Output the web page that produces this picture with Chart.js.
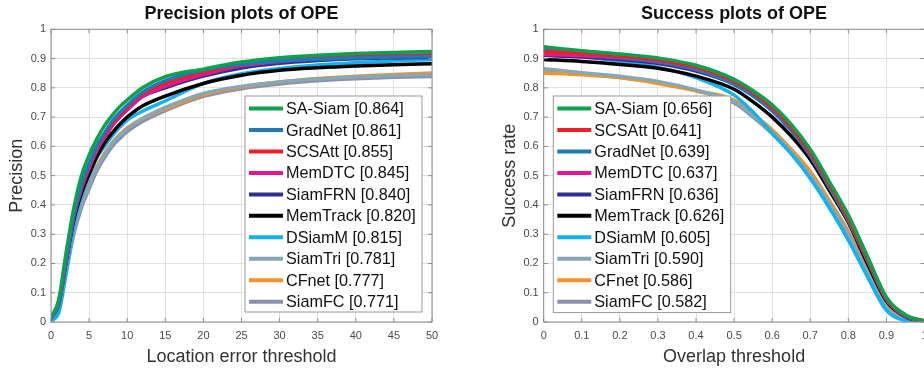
<!DOCTYPE html>
<html>
<head>
<meta charset="utf-8">
<script src="https://cdn.jsdelivr.net/npm/chart.js@4.4.0/dist/chart.umd.min.js"></script>
<style>
 body { margin: 0; background: #fff; }
 #wrap { position: relative; width: 924px; height: 368px; overflow: hidden; }
 #precBox { position: absolute; left: 0; top: 0; width: 462px; height: 368px; }
 #succBox { position: absolute; left: 462px; top: 0; width: 462px; height: 368px; overflow: hidden; }
</style>
</head>
<body>
<div id="wrap">
 <div id="precBox"><canvas id="precisionChart" width="462" height="368"></canvas></div>
 <div id="succBox"><canvas id="successChart" width="480" height="368"></canvas></div>
</div>
<script>
// ---- data ----
var precThresholds = [0, 1, 2, 3, 4, 5, 6, 7, 8, 9, 10, 12, 15, 20, 25, 30, 35, 40, 45, 50];
var precXTicks = [0, 5, 10, 15, 20, 25, 30, 35, 40, 45, 50];
var yTicks = [0, 0.1, 0.2, 0.3, 0.4, 0.5, 0.6, 0.7, 0.8, 0.9, 1];

var precNames = ["SA-Siam", "GradNet", "SCSAtt", "MemDTC", "SiamFRN", "MemTrack", "DSiamM", "SiamTri", "CFnet", "SiamFC"];
var precScores = ["0.864", "0.861", "0.855", "0.845", "0.840", "0.820", "0.815", "0.781", "0.777", "0.771"];

var precSASiam  = [0.015, 0.075, 0.24, 0.39, 0.50, 0.57, 0.625, 0.67, 0.705, 0.735, 0.758, 0.80, 0.838, 0.864, 0.888, 0.903, 0.911, 0.917, 0.921, 0.924];
var precGradNet = [0.012, 0.065, 0.22, 0.37, 0.47, 0.54, 0.60, 0.645, 0.685, 0.715, 0.74, 0.785, 0.825, 0.861, 0.88, 0.892, 0.898, 0.902, 0.905, 0.907];
var precSCSAtt  = [0.012, 0.065, 0.22, 0.37, 0.465, 0.535, 0.595, 0.64, 0.68, 0.71, 0.735, 0.78, 0.815, 0.855, 0.88, 0.895, 0.903, 0.908, 0.911, 0.913];
var precMemDTC  = [0.012, 0.06, 0.21, 0.36, 0.455, 0.525, 0.585, 0.63, 0.67, 0.70, 0.725, 0.77, 0.805, 0.845, 0.875, 0.89, 0.899, 0.905, 0.908, 0.91];
var precSiamFRN = [0.012, 0.06, 0.21, 0.36, 0.455, 0.525, 0.585, 0.63, 0.67, 0.70, 0.725, 0.77, 0.80, 0.84, 0.868, 0.884, 0.893, 0.899, 0.902, 0.904];
var precMemTrack = [0.012, 0.065, 0.21, 0.35, 0.44, 0.505, 0.565, 0.61, 0.645, 0.675, 0.70, 0.738, 0.772, 0.815, 0.843, 0.86, 0.869, 0.875, 0.879, 0.882];
var precDSiamM  = [0.005, 0.03, 0.17, 0.33, 0.43, 0.50, 0.56, 0.60, 0.635, 0.665, 0.69, 0.72, 0.755, 0.815, 0.848, 0.866, 0.878, 0.886, 0.892, 0.896];
var precSiamTri = [0.01, 0.05, 0.18, 0.31, 0.40, 0.465, 0.525, 0.57, 0.61, 0.637, 0.66, 0.695, 0.733, 0.781, 0.805, 0.82, 0.83, 0.837, 0.842, 0.845];
var precCFnet   = [0.01, 0.055, 0.19, 0.32, 0.41, 0.47, 0.53, 0.575, 0.612, 0.64, 0.663, 0.695, 0.728, 0.777, 0.803, 0.82, 0.832, 0.84, 0.846, 0.851];
var precSiamFC  = [0.008, 0.045, 0.17, 0.30, 0.39, 0.455, 0.515, 0.56, 0.598, 0.626, 0.65, 0.685, 0.722, 0.771, 0.797, 0.813, 0.824, 0.831, 0.836, 0.839];

var succThresholds = [0, 0.1, 0.2, 0.3, 0.4, 0.5, 0.55, 0.6, 0.65, 0.7, 0.75, 0.8, 0.85, 0.9, 0.95, 1];
var succXTicks = [0, 0.1, 0.2, 0.3, 0.4, 0.5, 0.6, 0.7, 0.8, 0.9, 1];

var succNames = ["SA-Siam", "SCSAtt", "GradNet", "MemDTC", "SiamFRN", "MemTrack", "DSiamM", "SiamTri", "CFnet", "SiamFC"];
var succScores = ["0.656", "0.641", "0.639", "0.637", "0.636", "0.626", "0.605", "0.590", "0.586", "0.582"];

var succSASiam  = [0.94, 0.927, 0.916, 0.902, 0.877, 0.829, 0.79, 0.742, 0.675, 0.59, 0.48, 0.365, 0.225, 0.085, 0.025, 0.003];
var succSCSAtt  = [0.925, 0.918, 0.908, 0.895, 0.87, 0.822, 0.783, 0.732, 0.665, 0.578, 0.47, 0.353, 0.215, 0.08, 0.022, 0.003];
var succGradNet = [0.93, 0.918, 0.905, 0.89, 0.862, 0.812, 0.773, 0.722, 0.655, 0.568, 0.46, 0.345, 0.21, 0.078, 0.02, 0.003];
var succMemDTC  = [0.915, 0.91, 0.902, 0.888, 0.862, 0.818, 0.78, 0.728, 0.66, 0.573, 0.465, 0.35, 0.212, 0.078, 0.02, 0.003];
var succSiamFRN = [0.911, 0.905, 0.897, 0.883, 0.857, 0.812, 0.773, 0.722, 0.655, 0.572, 0.465, 0.35, 0.212, 0.078, 0.02, 0.003];
var succMemTrack = [0.897, 0.89, 0.88, 0.867, 0.84, 0.795, 0.752, 0.70, 0.635, 0.555, 0.45, 0.34, 0.2, 0.072, 0.018, 0.002];
var succDSiamM  = [0.926, 0.908, 0.891, 0.87, 0.835, 0.775, 0.717, 0.645, 0.575, 0.49, 0.39, 0.28, 0.155, 0.04, 0.005, 0.001];
var succSiamTri = [0.865, 0.852, 0.84, 0.822, 0.793, 0.752, 0.705, 0.648, 0.58, 0.50, 0.405, 0.30, 0.17, 0.05, 0.01, 0.002];
var succCFnet   = [0.851, 0.845, 0.835, 0.815, 0.79, 0.758, 0.71, 0.657, 0.59, 0.515, 0.415, 0.31, 0.18, 0.065, 0.018, 0.005];
var succSiamFC  = [0.862, 0.848, 0.835, 0.818, 0.79, 0.748, 0.7, 0.643, 0.575, 0.495, 0.40, 0.295, 0.165, 0.05, 0.01, 0.001];

var trackerColors = {
 "SA-Siam": "#0aa14f",
 "GradNet": "#1f78b8",
 "SCSAtt": "#ec2027",
 "MemDTC": "#e6168c",
 "SiamFRN": "#2f3192",
 "MemTrack": "#000000",
 "DSiamM": "#12b2ee",
 "SiamTri": "#86a7b5",
 "CFnet": "#f6922a",
 "SiamFC": "#8d8fac"
};

var precSeries = [precSASiam, precGradNet, precSCSAtt, precMemDTC, precSiamFRN, precMemTrack, precDSiamM, precSiamTri, precCFnet, precSiamFC];
var succSeries = [succSASiam, succSCSAtt, succGradNet, succMemDTC, succSiamFRN, succMemTrack, succDSiamM, succSiamTri, succCFnet, succSiamFC];

Chart.defaults.font.family = "'Liberation Sans', Arial, Helvetica, sans-serif";

function buildDatasets(names, scores, xs, series) {
 return names.map(function (name, i) {
  return {
   label: name + " [" + scores[i] + "]",
   data: series[i].map(function (y, j) {
    return { x: xs[j], y: y };
   }),
   borderColor: trackerColors[name],
   backgroundColor: trackerColors[name],
   borderWidth: 3.5,
   pointRadius: 0,
   fill: false,
   cubicInterpolationMode: "monotone",
  };
 });
}

// box round the plot plus the little inward ticks, matlab style
var framePlugin = {
 id: "matFrame",
 afterDatasetsDraw: function (chart) {
  var ctx = chart.ctx;
  var a = chart.chartArea;
  var xs = chart.scales.x;
  var ys = chart.scales.y;
  ctx.save();
  ctx.strokeStyle = "#8c8c8c";
  ctx.lineWidth = 1;
  ctx.strokeRect(a.left, a.top, a.right - a.left, a.bottom - a.top);
  ctx.beginPath();
  xs.ticks.forEach(function (t) {
   var px = xs.getPixelForValue(t.value);
   ctx.moveTo(px, a.bottom);
   ctx.lineTo(px, a.bottom - 4);
   ctx.moveTo(px, a.top);
   ctx.lineTo(px, a.top + 4);
  });
  ys.ticks.forEach(function (t) {
   var py = ys.getPixelForValue(t.value);
   ctx.moveTo(a.left, py);
   ctx.lineTo(a.left + 4, py);
   ctx.moveTo(a.right, py);
   ctx.lineTo(a.right - 4, py);
  });
  ctx.stroke();
  ctx.restore();
 },
};

// legend drawn inside the plot area
var insideLegend = {
 id: "insideLegend",
 afterDraw: function (chart, args, opts) {
  var ctx = chart.ctx;
  var a = chart.chartArea;
  var bx = a.left + opts.offsetX;
  var by = a.top + opts.offsetY;
  ctx.save();
  ctx.fillStyle = "#ffffff";
  ctx.fillRect(bx, by, opts.width, opts.height);
  ctx.strokeStyle = "#9a9a9a";
  ctx.lineWidth = 1;
  ctx.strokeRect(bx, by, opts.width, opts.height);
  ctx.font = "16.2px 'Liberation Sans', Arial, sans-serif";
  ctx.textBaseline = "middle";
  ctx.textAlign = "left";
  chart.data.datasets.forEach(function (ds, i) {
   var cy = by + opts.firstRow + i * opts.rowGap;
   ctx.strokeStyle = ds.borderColor;
   ctx.lineWidth = 4;
   ctx.beginPath();
   ctx.moveTo(bx + 4, cy);
   ctx.lineTo(bx + 38, cy);
   ctx.stroke();
   ctx.fillStyle = "#111111";
   ctx.fillText(ds.label, bx + 41, cy + 1);
  });
  ctx.restore();
 },
};

function makeOptions(cfg) {
 return {
  responsive: false,
  animation: false,
  layout: { padding: { left: 0, right: cfg.padRight, top: 0, bottom: 0 } },
  plugins: {
   legend: { display: false },
   tooltip: { enabled: false },
   title: {
    display: true,
    text: cfg.title,
    fullSize: false,
    color: "#111111",
    font: { size: 18, weight: "bold" },
    padding: { top: 3.5, bottom: 4.2 },
   },
   insideLegend: cfg.legend,
  },
  scales: {
   x: {
    type: "linear",
    min: cfg.xMin,
    max: cfg.xMax,
    afterBuildTicks: function (s) {
     s.ticks = cfg.xTicks.map(function (v) { return { value: v }; });
    },
    afterFit: function (s) { s.height = 46; },
    grid: { color: "#e1e1e1", drawTicks: false },
    border: { display: false },
    ticks: {
     autoSkip: false,
     maxRotation: 0,
     padding: 7,
     color: "#4a4a4a",
     font: { size: 11 },
     callback: function (v) { return String(v); },
    },
    title: {
     display: true,
     text: cfg.xTitle,
     color: "#333333",
     font: { size: 18 },
     padding: { top: 0, bottom: 0 },
    },
   },
   y: {
    type: "linear",
    min: 0,
    max: 1,
    afterBuildTicks: function (s) {
     s.ticks = yTicks.map(function (v) { return { value: v }; });
    },
    afterFit: function (s) { s.width = cfg.yWidth; },
    grid: { color: "#e1e1e1", drawTicks: false },
    border: { display: false },
    ticks: {
     padding: 5,
     color: "#4a4a4a",
     font: { size: 11 },
     callback: function (v) { return String(v); },
    },
    title: {
     display: true,
     text: cfg.yTitle,
     color: "#333333",
     font: { size: 18 },
     padding: { top: cfg.yTitlePad, bottom: 0 },
    },
   },
  },
 };
}

new Chart(document.getElementById("precisionChart"), {
 type: "line",
 data: { datasets: buildDatasets(precNames, precScores, precThresholds, precSeries) },
 options: makeOptions({
  title: "Precision plots of OPE",
  xTitle: "Location error threshold",
  yTitle: "Precision",
  xMin: 0,
  xMax: 50,
  xTicks: precXTicks,
  yWidth: 51,
  yTitlePad: 6.4,
  padRight: 30,
  legend: { offsetX: 194, offsetY: 66.7, width: 177, height: 216, firstRow: 12.6, rowGap: 21.45 },
 }),
 plugins: [framePlugin, insideLegend],
});

new Chart(document.getElementById("successChart"), {
 type: "line",
 data: { datasets: buildDatasets(succNames, succScores, succThresholds, succSeries) },
 options: makeOptions({
  title: "Success plots of OPE",
  xTitle: "Overlap threshold",
  yTitle: "Success rate",
  xMin: 0,
  xMax: 1,
  xTicks: succXTicks,
  yWidth: 81.7,
  yTitlePad: 37.1,
  padRight: 17.5,
  legend: { offsetX: 9.6, offsetY: 66.7, width: 177.4, height: 216.6, firstRow: 12.6, rowGap: 21.45 },
 }),
 plugins: [framePlugin, insideLegend],
});
</script>
</body>
</html>
